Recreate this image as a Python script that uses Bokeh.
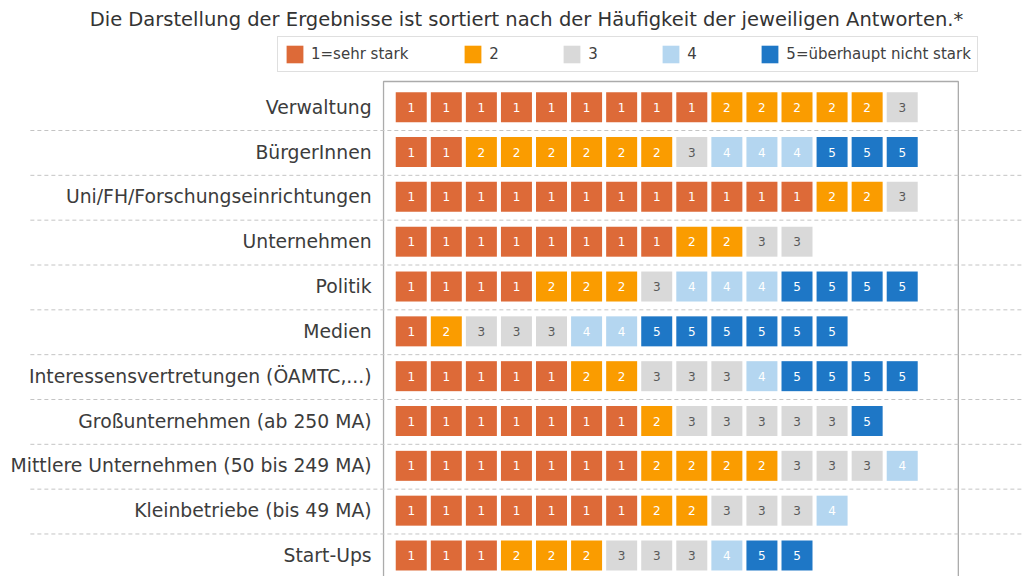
from bokeh.plotting import figure
from bokeh.models import Range1d, Legend, LegendItem, Label, ColumnDataSource
from bokeh.core.properties import value
from bokeh.embed import file_html
from bokeh.resources import INLINE

# ---------------- data ----------------
categories = [
    "Verwaltung",
    "BürgerInnen",
    "Uni/FH/Forschungseinrichtungen",
    "Unternehmen",
    "Politik",
    "Medien",
    "Interessensvertretungen (ÖAMTC,...)",
    "Großunternehmen (ab 250 MA)",
    "Mittlere Unternehmen (50 bis 249 MA)",
    "Kleinbetriebe (bis 49 MA)",
    "Start-Ups",
]
# number of answers per rating (1 = sehr stark ... 5 = überhaupt nicht stark)
count_1 = [9, 2, 12, 8, 4, 1, 5, 7, 7, 7, 3]
count_2 = [5, 6, 2, 2, 3, 1, 2, 1, 4, 2, 3]
count_3 = [1, 1, 1, 2, 1, 3, 3, 5, 3, 3, 3]
count_4 = [0, 3, 0, 0, 3, 2, 1, 0, 1, 1, 1]
count_5 = [0, 3, 0, 0, 4, 6, 4, 1, 0, 0, 2]
ratings = ["1", "2", "3", "4", "5"]
legend_labels = ["1=sehr stark", "2", "3", "4", "5=überhaupt nicht stark"]
title_text = "Die Darstellung der Ergebnisse ist sortiert nach der Häufigkeit der jeweiligen Antworten.*"

# ---------------- styles ----------------
colors = ["#DD6A38", "#FA9C00", "#D9D9D9", "#B4D6F0", "#1E77C6"]
num_colors = ["#FFFFFF", "#FFFFFF", "#595959", "#FFFFFF", "#FFFFFF"]
FONT_NAME = "DejaVu Sans"
FONT = value(FONT_NAME)

W, H = 1024, 576
PX_X, PX_Y = 35.07, 44.83          # pixels per data unit
ORIGIN_SX, ORIGIN_SY = 393.2, 106.7  # screen position of data (0, 0) from top-left

p = figure(
    width=W, height=H,
    x_range=Range1d(-ORIGIN_SX / PX_X, (W - ORIGIN_SX) / PX_X),
    y_range=Range1d(-(H - ORIGIN_SY) / PX_Y, ORIGIN_SY / PX_Y),
    x_axis_location=None, y_axis_location=None,
    toolbar_location=None, output_backend="svg",
    min_border=0, outline_line_color=None,
)
p.grid.visible = False
p.background_fill_color = "white"

all_counts = [count_1, count_2, count_3, count_4, count_5]
n_rows = len(categories)
max_total = max(sum(c[j] for c in all_counts) for j in range(n_rows))

# frame box (open at the bottom, cut by the page)
box_left, box_right, box_top = -0.29, max_total + 1.1, 0.573
box_bottom = -(n_rows + 1)
p.line(x=[box_left, box_left, box_right, box_right],
       y=[box_bottom, box_top, box_top, box_bottom],
       line_color="#ABABAB", line_width=1.3)

# dashed row separators
sep_y = [-(j + 0.52) for j in range(n_rows - 1)]
p.segment(x0=[-10.36] * len(sep_y), x1=[(W - ORIGIN_SX) / PX_X + 1] * len(sep_y),
          y0=sep_y, y1=sep_y, line_color="#C4C4C4", line_width=1, line_dash="4 3")

# squares
renderers = []
for k, counts in enumerate(all_counts):
    xs, ys = [], []
    for j in range(n_rows):
        start = sum(all_counts[m][j] for m in range(k))
        for i in range(counts[j]):
            xs.append(start + i + 0.5)
            ys.append(-j)
    src = ColumnDataSource(dict(x=xs, y=ys, t=[ratings[k]] * len(xs)))
    r = p.rect(x="x", y="y", width=31, height=30, width_units="screen",
               height_units="screen", fill_color=colors[k], line_color=None,
               source=src)
    p.text(x="x", y="y", text="t", source=src, text_align="center",
           text_baseline="middle", text_color=num_colors[k],
           text_font_size="12px", text_font=FONT)
    renderers.append(r)

# category labels
p.text(x=[-0.63] * n_rows, y=[-j for j in range(n_rows)], text=categories,
       text_align="right", text_baseline="middle", text_color="#3C3C3C",
       text_font_size="18.8px", text_font=FONT)

# title
p.add_layout(Label(x=526, y=557.5, x_units="screen", y_units="screen",
                   text=title_text, text_align="center", text_baseline="middle",
                   text_font_size="19.5px", text_color="#333333", text_font=FONT_NAME))

# legend
legend = Legend(
    items=[LegendItem(label=lbl, renderers=[r]) for lbl, r in zip(legend_labels, renderers)],
    orientation="horizontal", location=(277, 504),
    glyph_width=21, glyph_height=22, label_standoff=6, spacing=54,
    label_width=18, padding=6, margin=0,
    border_line_color="#BFBFBF", border_line_width=1,
    label_text_font_size="15px", label_text_color="#404040", label_text_font=FONT_NAME,
    background_fill_color="white", background_fill_alpha=1.0,
)
p.add_layout(legend)

open("out.html", "w").write(file_html(p, INLINE))
